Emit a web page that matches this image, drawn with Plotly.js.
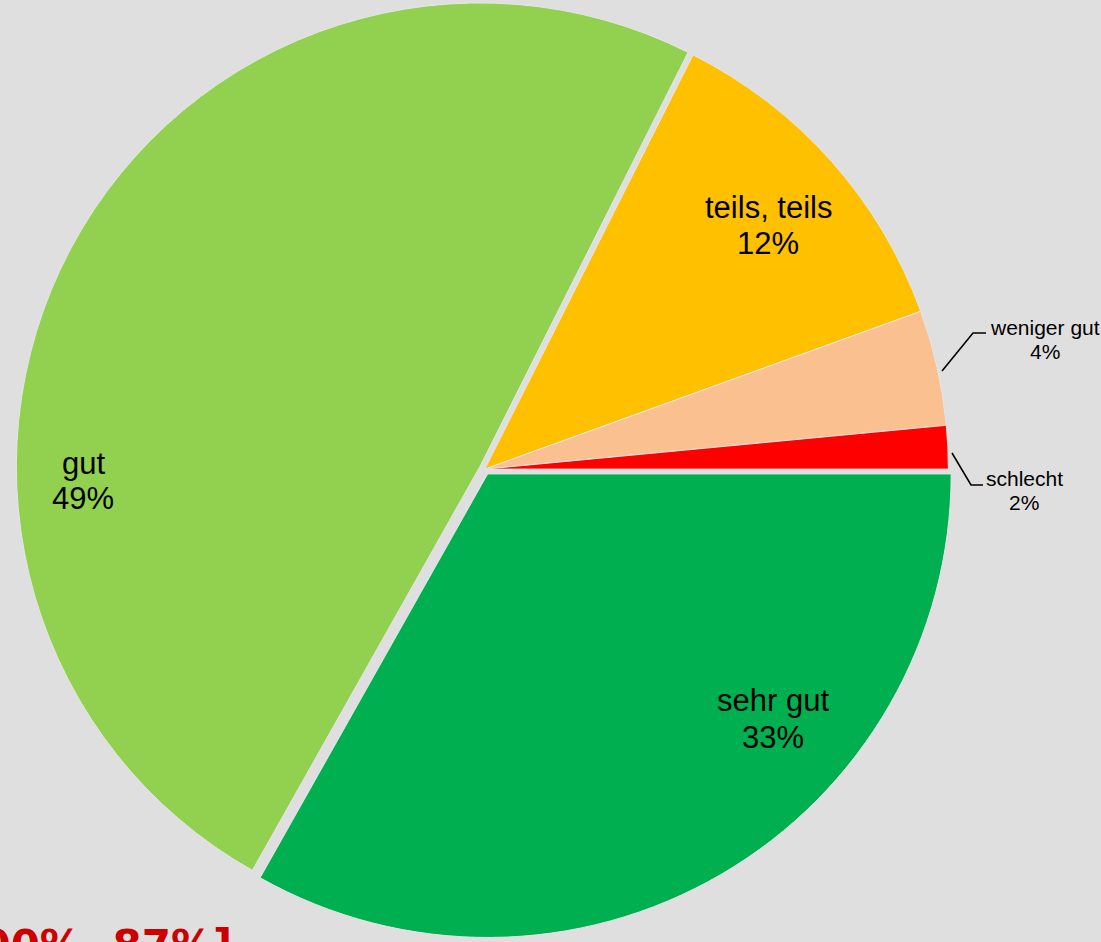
<!DOCTYPE html>
<html>
<head>
<meta charset="utf-8">
<script src="https://cdn.plot.ly/plotly-3.0.1.min.js"></script>
<style>
html,body{margin:0;padding:0;background:#dfdfdf;}
#chart{width:1101px;height:942px;}
</style>
</head>
<body>
<div id="chart"></div>
<script>
const categories = ["sehr gut", "gut", "teils, teils", "weniger gut", "schlecht"];
const values = [33, 49, 12, 4, 1.5];
const sliceColors = ["#00b050", "#92d050", "#ffc000", "#fac090", "#ff0000"];
const cornerNote = "[100%, 87%]";

const W = 1101, H = 942;
const px = x => x / W;
const py = y => 1 - y / H;

// label layout (pixel centres of the two text lines, font size), per category index
const labelLayout = [
  {x: 773, y1: 700, y2: 737, size: 31},
  {x: 83,  y1: 463, y2: 498, size: 31},
  {x: 768, y1: 208, y2: 243, size: 31},
  {x: 1045, y1: 327, y2: 352, size: 21},
  {x: 1024, y1: 478, y2: 502, size: 21}
];
// leader lines for the small slices
const leaders = [
  {idx: 3, pts: [[942, 371], [973, 333], [986, 333]]},
  {idx: 4, pts: [[952, 453], [971, 485], [983, 485]]}
];

const total = values.reduce((a, b) => a + b, 0);
const fontFam = "Liberation Sans, Arial, sans-serif";
const annotations = [];
categories.forEach((c, i) => {
  const L = labelLayout[i];
  const pct = Math.round(values[i] / total * 100) + "%";
  annotations.push({text: c, xref: "paper", yref: "paper", x: px(L.x), y: py(L.y1),
    xanchor: "center", yanchor: "middle", showarrow: false,
    font: {family: fontFam, size: L.size, color: "#000000"}});
  annotations.push({text: pct, xref: "paper", yref: "paper", x: px(L.x), y: py(L.y2),
    xanchor: "center", yanchor: "middle", showarrow: false,
    font: {family: fontFam, size: L.size, color: "#000000"}});
});
annotations.push({
  text: "<b>" + cornerNote + "</b>",
  xref: "paper", yref: "paper",
  x: 0.2125, y: 0.024,
  xanchor: "right", yanchor: "top",
  showarrow: false,
  font: {family: "DejaVu Sans, sans-serif", size: 42, color: "#cc0000"}
});

const shapes = leaders.map(l => ({
  type: "path", xref: "paper", yref: "paper",
  path: l.pts.map((p, k) => (k ? "L" : "M") + px(p[0]) + "," + py(p[1])).join(" "),
  line: {color: "#000000", width: 1.6}
}));

const trace = {
  type: "pie",
  labels: categories,
  values: values,
  sort: false,
  direction: "clockwise",
  rotation: 90,
  pull: [0.012, 0.012, 0, 0, 0],
  marker: {colors: sliceColors, line: {color: "#e6e6e6", width: 1}},
  textinfo: "none",
  hoverinfo: "label+percent",
  domain: {x: [0.0127, 0.868], y: [0.004, 1]},
  showlegend: false
};

const layout = {
  width: W,
  height: H,
  margin: {l: 0, r: 0, t: 0, b: 0},
  paper_bgcolor: "#dfdfdf",
  plot_bgcolor: "#dfdfdf",
  showlegend: false,
  annotations: annotations,
  shapes: shapes
};

Plotly.newPlot("chart", [trace], layout, {displayModeBar: false, staticPlot: true});
</script>
</body>
</html>
